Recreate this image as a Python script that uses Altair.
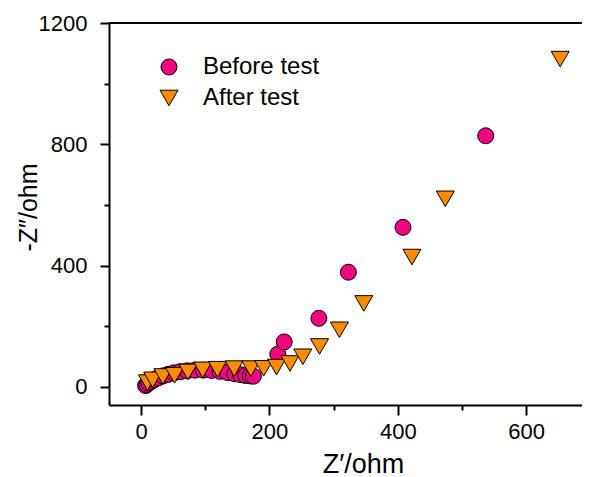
import altair as alt
import pandas as pd

series_names = ["Before test", "After test"]
series_colors = ["#F0047F", "#FF8C00"]
series_shapes = ["circle", "triangle-down"]

before_x = [7, 9, 12, 16, 21, 27, 34, 42, 51, 61, 72, 84, 97, 110, 123, 135, 146, 155, 163, 170, 175, 213, 223, 277, 323, 408, 537]
before_y = [4, 8, 13, 18, 24, 30, 36, 41, 46, 50, 53, 55, 55, 54, 51, 47, 43, 40, 37, 36, 35, 108, 148, 226, 378, 526, 828]

after_x = [10, 18, 34, 52, 73, 96, 119, 145, 171, 191, 211, 232, 252, 278, 309, 347, 422, 474, 653]
after_y = [14, 23, 34, 38, 49, 56, 58, 60, 60, 61, 65, 77, 99, 133, 188, 275, 428, 620, 1081]

x_ticks = [0, 100, 200, 300, 400, 500, 600]
y_ticks = [0, 200, 400, 600, 800, 1000, 1200]

df = pd.concat([
    pd.DataFrame({"x": before_x, "y": before_y, "series": series_names[0]}),
    pd.DataFrame({"x": after_x, "y": after_y, "series": series_names[1]}),
], ignore_index=True)

FONT = "Liberation Sans"
W, H = 473, 382

legend = alt.Legend(
    title=None, orient="none", legendX=48, legendY=32, padding=0,
    labelFont=FONT, labelFontSize=24, labelColor="black", labelOffset=22,
    rowPadding=7, symbolStrokeColor="black", symbolStrokeWidth=1,
)

x_axis = alt.Axis(
    values=x_ticks, grid=False, format="d",
    labelExpr="datum.value % 200 === 0 ? datum.label : ''",
    tickSize={"condition": {"test": "datum.value % 200 === 0", "value": 10}, "value": 5},
    domainColor="black", domainWidth=2, tickColor="black", tickWidth=2,
    labelFont=FONT, labelFontSize=22, labelColor="black", labelPadding=6,
    title="Z′/ohm", titleFont=FONT, titleFontSize=27, titleFontWeight="normal",
    titleColor="black", titleX=254, titleY=67, titleBaseline="alphabetic",
)
y_axis = alt.Axis(
    values=y_ticks, grid=False, format="d",
    labelExpr="datum.value % 400 === 0 ? datum.label : ''",
    tickSize={"condition": {"test": "datum.value % 400 === 0", "value": 9}, "value": 5},
    domainColor="black", domainWidth=2, tickColor="black", tickWidth=2,
    labelFont=FONT, labelFontSize=22, labelColor="black", labelPadding=13,
    title="-Z″/ohm", titleFont=FONT, titleFontSize=25, titleFontWeight="normal",
    titleColor="black", titleX=-81, titleY=184, titleAngle=270,
    titleAlign="center", titleBaseline="middle",
)

points = alt.Chart(df).mark_point(filled=True, stroke="black", strokeWidth=1, opacity=1).encode(
    x=alt.X("x:Q", scale=alt.Scale(domain=[-50, 687], nice=False, zero=False), axis=x_axis),
    y=alt.Y("y:Q", scale=alt.Scale(domain=[-60, 1200], nice=False, zero=False), axis=y_axis),
    color=alt.Color("series:N", scale=alt.Scale(domain=series_names, range=series_colors), legend=legend),
    shape=alt.Shape("series:N", scale=alt.Scale(domain=series_names, range=series_shapes), legend=legend),
    size=alt.Size("series:N", scale=alt.Scale(domain=series_names, range=[256, 324]), legend=legend),
)

top_line = alt.Chart(df).mark_rule(color="black", strokeWidth=2).encode(
    y=alt.datum(1200), x=alt.value(0), x2=alt.value(W)
)

chart = alt.layer(top_line, points).properties(
    width=W, height=H,
    autosize=alt.AutoSizeParams(type="none"),
    padding={"left": 101, "top": 15, "right": 0, "bottom": 72},
    background="white",
).configure_view(stroke=None)

chart.save("out.html", embed_options={"renderer": "svg", "actions": False})
